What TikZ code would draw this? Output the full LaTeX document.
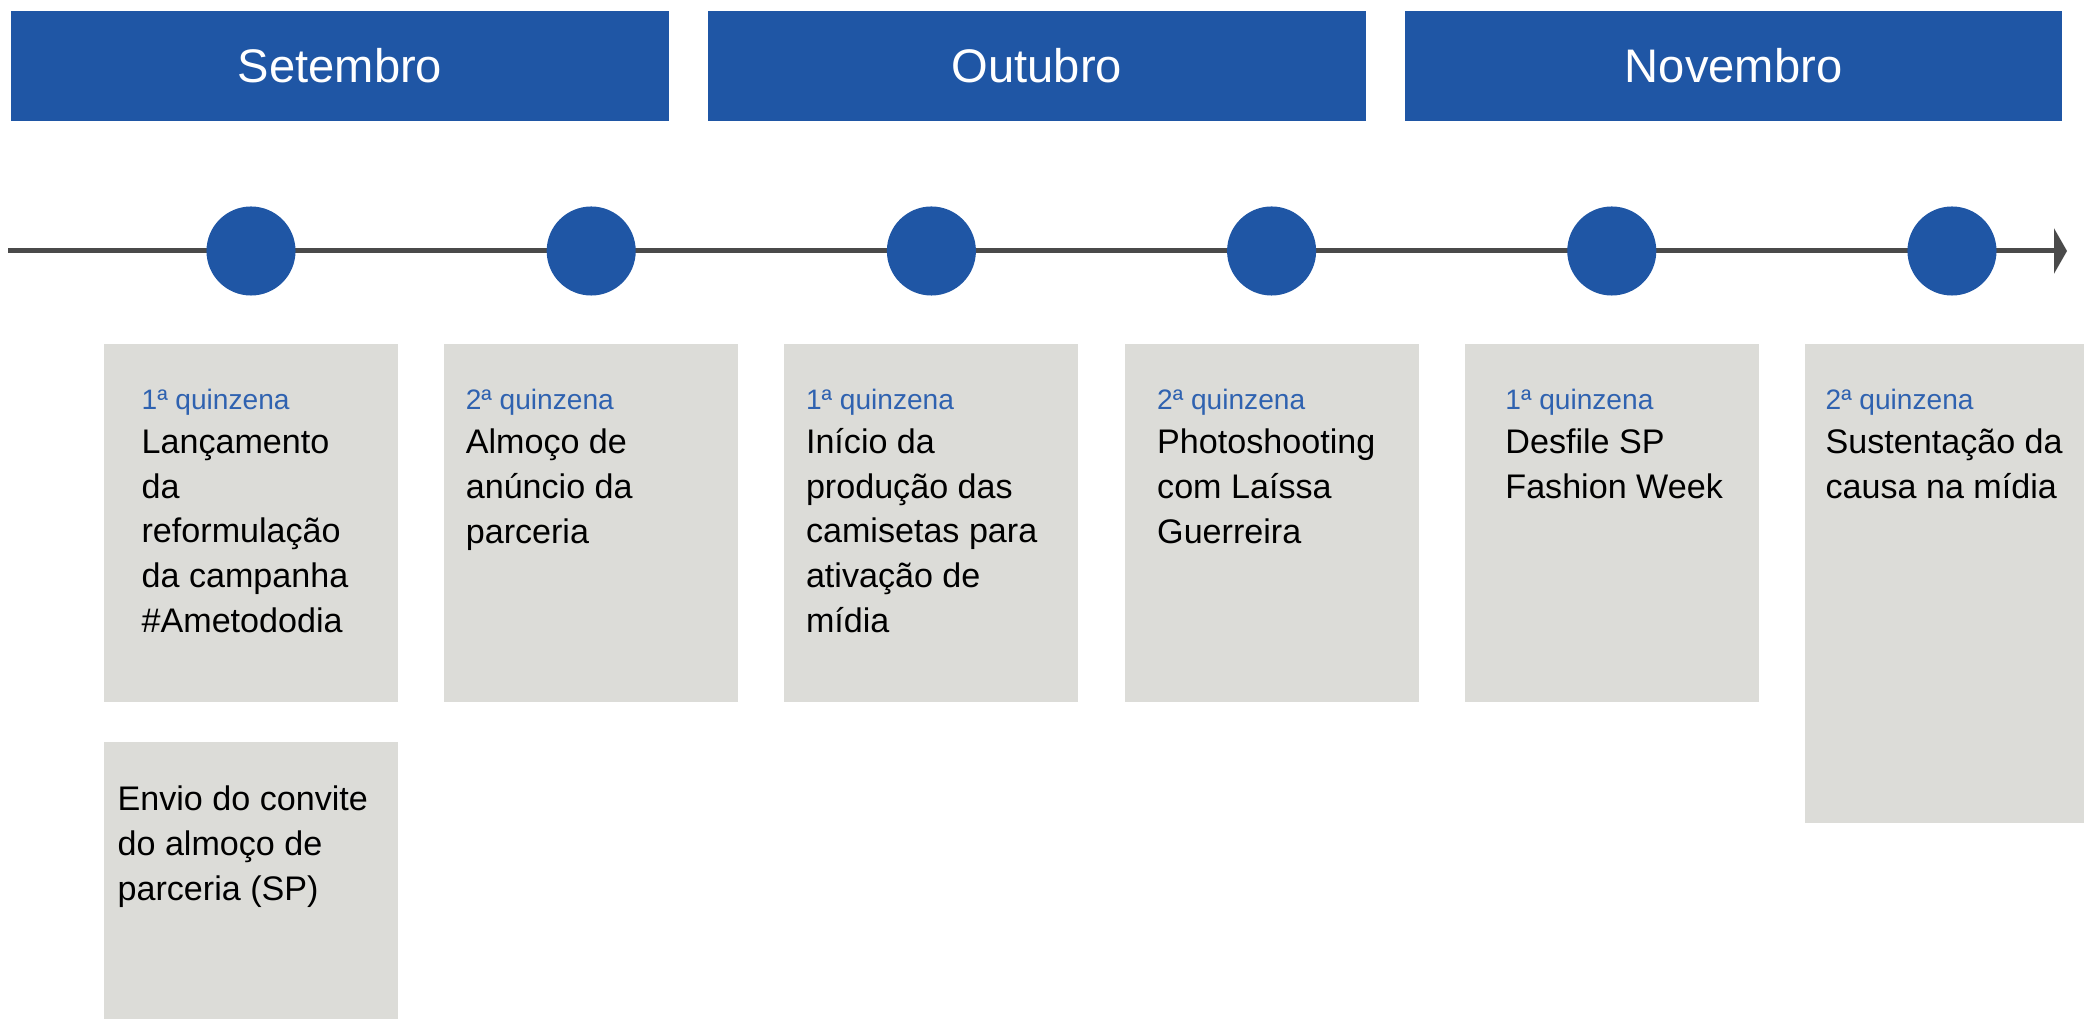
\documentclass[tikz,border=0pt]{standalone}
\usepackage{fontspec}
\setmainfont{Liberation Sans}
\usetikzlibrary{calc,positioning,arrows.meta}
\definecolor{navy}{HTML}{1F56A5}
\definecolor{paper}{HTML}{DCDCD8}
\definecolor{axis}{HTML}{4A4A4A}
\definecolor{fortnight}{HTML}{2F62B0}

\begin{document}
\begin{tikzpicture}[x=0.01cm, y=-0.01cm,
month/.style = {fill=navy, text=white, inner sep=0pt,
                minimum width=6.57cm, minimum height=1.10cm,
                font=\fontsize{13.4}{16}\selectfont},
dot/.style = {circle, fill=navy, minimum size=0.89cm,
              inner sep=0pt, outer sep=0pt},
slot/.style = {fill=paper, inner sep=0pt, outer sep=0pt,
               minimum width=2.94cm, minimum height=3.58cm},
when/.style = {text=fortnight, inner sep=0pt, anchor=base west,
               font=\fontsize{8}{10}\selectfont},
what/.style = {inner sep=0pt, anchor=base west, align=left,
               font=\fontsize{9.7}{12.7}\selectfont},
timeline/.style = {draw=axis, line width=0.05cm,
                   -{Triangle[length=0.13cm, width=0.45cm]}},
]
\useasboundingbox (0,0) rectangle (2084,1019);
        % months
        \node (sep) [month] at (340,66) {Setembro};
        \node (out) [month, right=0.38cm of sep] {Outubro};
        \node (nov) [month, right=0.38cm of out] {Novembro};
        % time line
        \coordinate (t0) at (8,251);
        \coordinate (t1) at (2067,251);
        \draw[timeline] (t0) -- (t1);
        \node (d1) [dot] at (251,251) {};
        \node (d2) [dot, right=2.51cm of d1] {};
        \node (d3) [dot, right=2.51cm of d2] {};
        \node (d4) [dot, right=2.51cm of d3] {};
        \node (d5) [dot, right=2.51cm of d4] {};
        \node (d6) [dot, right=2.51cm of d5] {};
        % boxes
        \node (s1) [slot, below=0.485cm of d1] {};
        \node (s2) [slot, below=0.485cm of d2] {};
        \node (s3) [slot, below=0.485cm of d3] {};
        \node (s4) [slot, below=0.485cm of d4] {};
        \node (s5) [slot, below=0.485cm of d5] {};
        \node (s6) [slot, minimum height=4.79cm,
                    below=0.485cm of d6] {};
        \node (s7) [slot, minimum height=2.90cm,
                    below=0.40cm of s1] {};
        % texts (a text's base is its last line)
        \node (q1) [when] at ($(s1.north west)+(37,65)$) {1ª quinzena};
        \node (e1) [what] at ($(q1.base west)+(0,223)$)
                   {Lançamento\\da\\reformulação\\da campanha\\\#Ametododia};
        \node (q2) [when] at ($(s2.north west)+(21,65)$) {2ª quinzena};
        \node (e2) [what] at ($(q2.base west)+(0,134)$)
                   {Almoço de\\anúncio da\\parceria};
        \node (q3) [when] at ($(s3.north west)+(21,65)$) {1ª quinzena};
        \node (e3) [what] at ($(q3.base west)+(0,223)$)
                   {Início da\\produção das\\camisetas para\\ativação de\\mídia};
        \node (q4) [when] at ($(s4.north west)+(32,65)$) {2ª quinzena};
        \node (e4) [what] at ($(q4.base west)+(0,134)$)
                   {Photoshooting\\com Laíssa\\Guerreira};
        \node (q5) [when] at ($(s5.north west)+(40,65)$) {1ª quinzena};
        \node (e5) [what] at ($(q5.base west)+(0,89)$)
                   {Desfile SP\\Fashion Week};
        \node (q6) [when] at ($(s6.north west)+(20,65)$) {2ª quinzena};
        \node (e6) [what] at ($(q6.base west)+(0,89)$)
                   {Sustentação da\\causa na mídia};
        \node (e7) [what] at ($(s7.north west)+(13,158)$)
                   {Envio do convite\\do almoço de\\parceria (SP)};
\end{tikzpicture}
\end{document}
